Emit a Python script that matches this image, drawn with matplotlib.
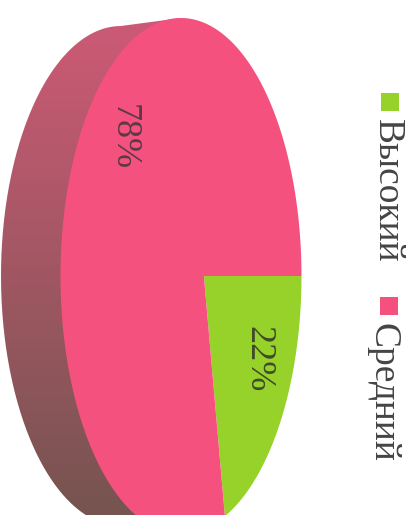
import numpy as np
import matplotlib
matplotlib.use('Agg')
import matplotlib.pyplot as plt
from matplotlib.path import Path
from matplotlib.patches import PathPatch
from matplotlib.transforms import Transform, Affine2D

categories = ['Высокий', 'Средний']
values = [22, 78]
colors = ['#97D22B', '#F5517F']

plt.rcParams['font.family'] = ['Liberation Serif', 'DejaVu Serif']


# perspective tilt: keeps the circle a circle but moves the pie's apex off centre
class Tilt(Transform):
    input_dims = 2
    output_dims = 2
    is_separable = False
    has_inverse = False

    def __init__(self, p):
        super().__init__()
        self.p = p

    def transform_non_affine(self, xy):
        xy = np.asarray(xy, dtype=float)
        d = 1 + self.p * xy[:, 0]
        x = (xy[:, 0] + self.p) / d
        y = xy[:, 1] * np.sqrt(1 - self.p ** 2) / d
        return np.column_stack([x, y])

    def transform_path_non_affine(self, path):
        # flatten first, control points do not map exactly
        big = path.transformed(Affine2D().scale(2000))
        polys = big.to_polygons(closed_only=True)
        pts = np.concatenate(polys) / 2000
        return Path(self.transform_non_affine(pts), closed=False)


fig = plt.figure(figsize=(4.12, 5.15), dpi=100)
ax = fig.add_axes([0, 0, 1, 1])

# side wall of the disc
t = np.linspace(np.pi / 2, 3 * np.pi / 2, 200)
wall = np.column_stack([121 + 120 * np.cos(t), 276 + 250 * np.sin(t)])
wall = np.vstack([wall, [[181, 18], [181, 534], [121, 526]]])
grad = np.linspace(0, 1, 256)[:, None]
top, bottom = np.array([205, 90, 118]) / 255, np.array([118, 84, 80]) / 255
shade = (top + (bottom - top) * grad)[:, None, :]
im = ax.imshow(shade, extent=(0, 200, 515, 18), aspect='auto', zorder=1)
clip = PathPatch(Path(wall), transform=ax.transData, fc='none', ec='none')
ax.add_patch(clip)
im.set_clip_path(clip)

# top face
wedges, _ = ax.pie(values, colors=colors, startangle=-79.2, radius=1, wedgeprops={'linewidth': 0})
to_pixels = Affine2D().scale(120.5, -258).translate(181, 276)
for w in wedges:
    w.set_transform(Tilt(0.19) + to_pixels + ax.transData)
    w.set_zorder(2)
    w.set_clip_on(True)

ax.set_aspect('auto')
ax.set_xlim(0, 412)
ax.set_ylim(515, 0)
ax.axis('off')

ax.text(258, 359, f'{values[0]}%', rotation=270, ha='center', va='center', fontsize=26, color='#3f4a2a', zorder=3)
ax.text(123, 137, f'{values[1]}%', rotation=270, ha='center', va='center', fontsize=26, color='#5a3a45', zorder=3)

# legend
ax.scatter([390, 389], [102, 306], marker='s', s=165, c=colors, linewidths=0, zorder=3)
ax.text(387, 191, categories[0], rotation=270, ha='center', va='center', fontsize=27, color='#444444')
ax.text(383, 392, categories[1], rotation=270, ha='center', va='center', fontsize=27, color='#444444')

fig.savefig('out.png', dpi=100)
